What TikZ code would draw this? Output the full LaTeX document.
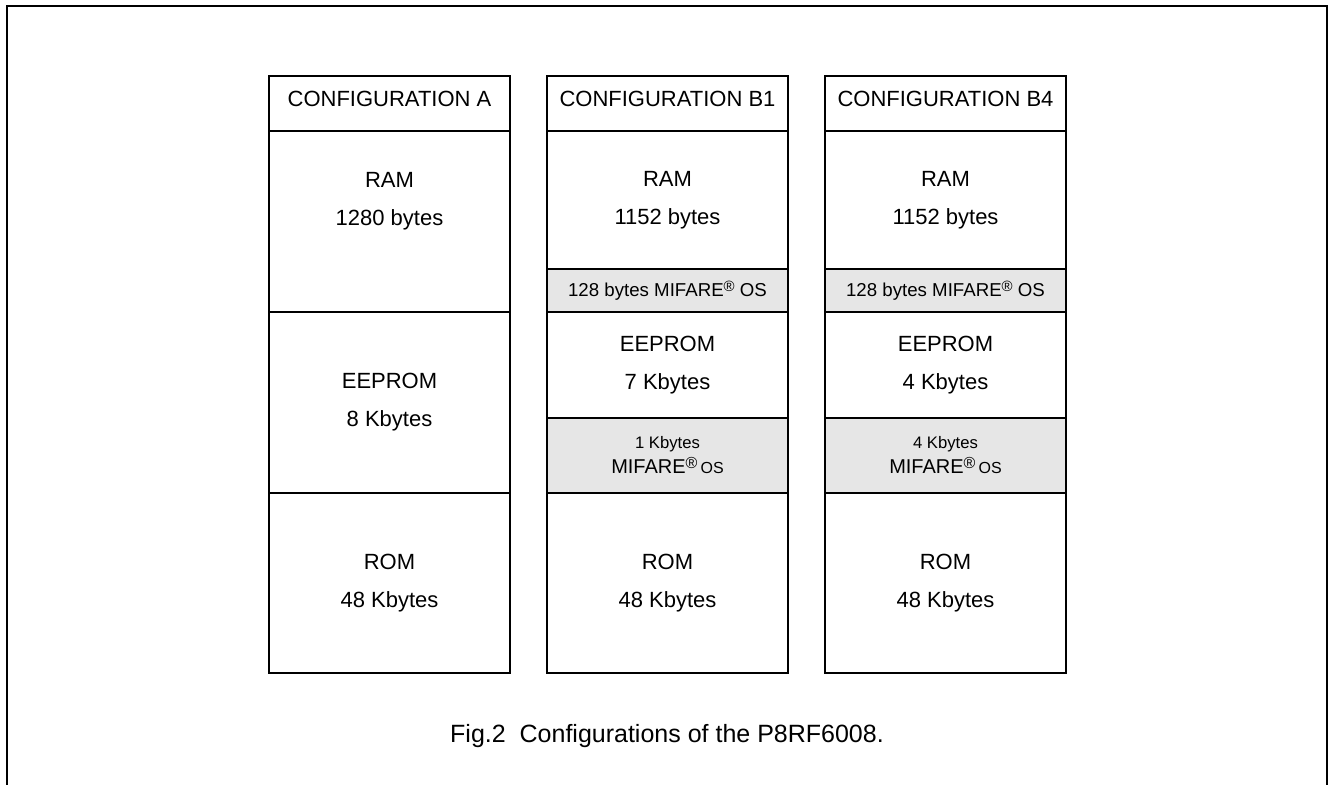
\documentclass[tikz,border=0pt]{standalone}
\usepackage{fontspec}
\setmainfont{Liberation Sans}
\usetikzlibrary{positioning}

\definecolor{osgray}{RGB}{230,230,230}
\newcommand{\regmark}{\raisebox{0.5ex}{\scalebox{0.8}{®}}}

\tikzset{
  txt/.style={align=center, font=\fontsize{16.5}{28.5}\selectfont},
  blk/.style={txt, draw, line width=1.2pt, minimum width=180.75pt,
              inner sep=0pt, outer sep=0pt},
  headblk/.style={blk, minimum height=41.25pt, text depth=7pt},
  osblk/.style={blk, fill=osgray, font=\fontsize{14}{18.75}\selectfont},
}

\begin{document}
\begin{tikzpicture}[x=0.75pt, y=-0.75pt] % 1 unit = 1 pixel of the page
  \useasboundingbox (0,0) rectangle (1331,785);
  % frame, open at the bottom
  \draw[line width=1.5pt] (7,785) -- (7,6) -- (1327,6) -- (1327,785);

  % configuration A
  \node[headblk, anchor=north west] (headA) at (269,76) {CONFIGURATION A};
  \node[blk, minimum height=135.75pt, below=0pt of headA] (ramA) {};
  \path (ramA.north) ++(0,70) node[txt] (ramAtxt) {RAM\\1280 bytes};
  \node[blk, minimum height=135.75pt, below=0pt of ramA] (eeA) {EEPROM\\8 Kbytes};
  \node[blk, minimum height=135pt, below=0pt of eeA] (romA) {ROM\\48 Kbytes};

  % configurations B1 and B4
  \foreach \cf/\x/\eek/\osk in {B1/547/7/1, B4/825/4/4}
  {
    \node[headblk, anchor=north west] (head\cf) at (\x,76) {CONFIGURATION \cf};
    \node[blk, minimum height=103.5pt, below=0pt of head\cf] (ram\cf) {RAM\\1152 bytes};
    \node[osblk, minimum height=32.25pt, below=0pt of ram\cf] (osram\cf)
      {128 bytes MIFARE\regmark\ OS};
    \node[blk, minimum height=79.5pt, below=0pt of osram\cf] (ee\cf) {EEPROM\\\eek\ Kbytes};
    \node[osblk, minimum height=56.25pt, below=0pt of ee\cf] (osee\cf)
      {{\fontsize{12.5}{14}\selectfont \osk\ Kbytes}\\
       {\fontsize{15}{18}\selectfont MIFARE\regmark}\,{\fontsize{12}{14}\selectfont OS}};
    \node[blk, minimum height=135pt, below=0pt of osee\cf] (rom\cf) {ROM\\48 Kbytes};
  }

  % caption
  \node[anchor=base, font=\fontsize{18.75}{22}\selectfont] (caption) at (667,742)
    {Fig.2\ \ Configurations of the P8RF6008.};
\end{tikzpicture}
\end{document}
